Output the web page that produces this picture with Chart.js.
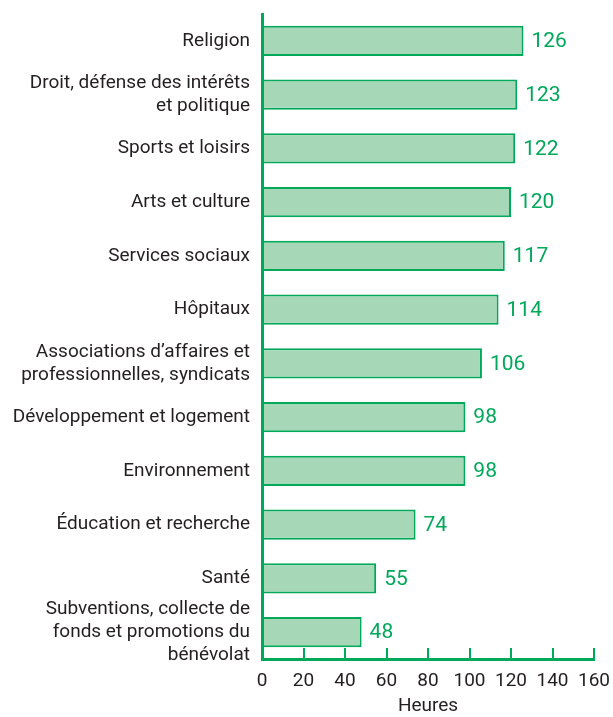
<!DOCTYPE html>
<html lang="fr">
<head>
  <meta charset="UTF-8">
  <title>Heures de bénévolat par type d'organisme</title>
  <script src="https://cdn.jsdelivr.net/npm/chart.js"></script>
  <style>
    body { margin: 0; background: #ffffff; }
    #box { width: 613px; height: 717px; }
  </style>
</head>
<body>
  <div id="box"><canvas id="graphique"></canvas></div>

  <script>
    const categories = [
      "Religion",
      ["Droit, défense des intérêts", "et politique"],
      "Sports et loisirs",
      "Arts et culture",
      "Services sociaux",
      "Hôpitaux",
      ["Associations d’affaires et", "professionnelles, syndicats"],
      "Développement et logement",
      "Environnement",
      "Éducation et recherche",
      "Santé",
      ["Subventions, collecte de", "fonds et promotions du", "bénévolat"]
    ];
    const heures = [126, 123, 122, 120, 117, 114, 106, 98, 98, 74, 55, 48];
    const ticksX = [0, 20, 40, 60, 80, 100, 120, 140, 160];

    const vert = "#00a85a";
    const police = "Roboto, 'Liberation Sans', sans-serif";

    // valeurs au bout des barres
    const etiquettes = {
      id: "etiquettes",
      afterDatasetsDraw(chart) {
        const ctx = chart.ctx;
        ctx.save();
        ctx.fillStyle = vert;
        ctx.font = "21px " + police;
        ctx.textBaseline = "middle";
        chart.getDatasetMeta(0).data.forEach((bar, i) => {
          ctx.fillText(heures[i], bar.x + 8, bar.y + 1);
        });
        ctx.restore();
      }
    };

    // petites graduations vers le haut sur l'axe des x
    const graduations = {
      id: "graduations",
      afterDraw(chart) {
        const ctx = chart.ctx, x = chart.scales.x, bas = chart.chartArea.bottom;
        ctx.save();
        ctx.strokeStyle = vert;
        ctx.lineWidth = 2;
        ctx.beginPath();
        ticksX.forEach(v => {
          if (v === 0) return;
          const px = Math.round(x.getPixelForValue(v));
          ctx.moveTo(px, bas);
          ctx.lineTo(px, bas - 11);
        });
        ctx.stroke();
        ctx.restore();
      }
    };

    new Chart(document.getElementById("graphique"), {
      type: "bar",
      data: {
        labels: categories,
        datasets: [{
          data: heures,
          backgroundColor: "#a6d8b8",
          borderColor: vert,
          borderWidth: 2,
          borderSkipped: false,
          categoryPercentage: 0.56,
          barPercentage: 1
        }]
      },
      options: {
        indexAxis: "y",
        responsive: true,
        maintainAspectRatio: false,
        animation: false,
        layout: { padding: { left: 0, right: 19, top: 14, bottom: 0 } },
        plugins: { legend: { display: false }, tooltip: { enabled: false } },
        scales: {
          x: {
            min: 0, max: 160,
            afterBuildTicks: s => { s.ticks = ticksX.map(v => ({ value: v })); },
            afterFit: s => { s.height = 58; s.paddingLeft = 0; s.paddingRight = 0; },
            grid: { display: false, drawTicks: false },
            border: { display: true, color: vert, width: 3 },
            ticks: { color: "#231f20", padding: 11, font: { family: police, size: 19 } },
            title: {
              display: true, text: "Heures", color: "#231f20",
              padding: { top: 0, bottom: 1 },
              font: { family: police, size: 19, lineHeight: 1 }
            }
          },
          y: {
            afterFit: s => { s.width = 262; s.paddingTop = 0; s.paddingBottom = 0; },
            grid: { display: false, drawTicks: false },
            border: { display: true, color: vert, width: 3 },
            ticks: {
              color: "#231f20", padding: 12, autoSkip: false,
              font: { family: police, size: 19, lineHeight: 1.2 }
            }
          }
        }
      },
      plugins: [etiquettes, graduations]
    });
  </script>
</body>
</html>
